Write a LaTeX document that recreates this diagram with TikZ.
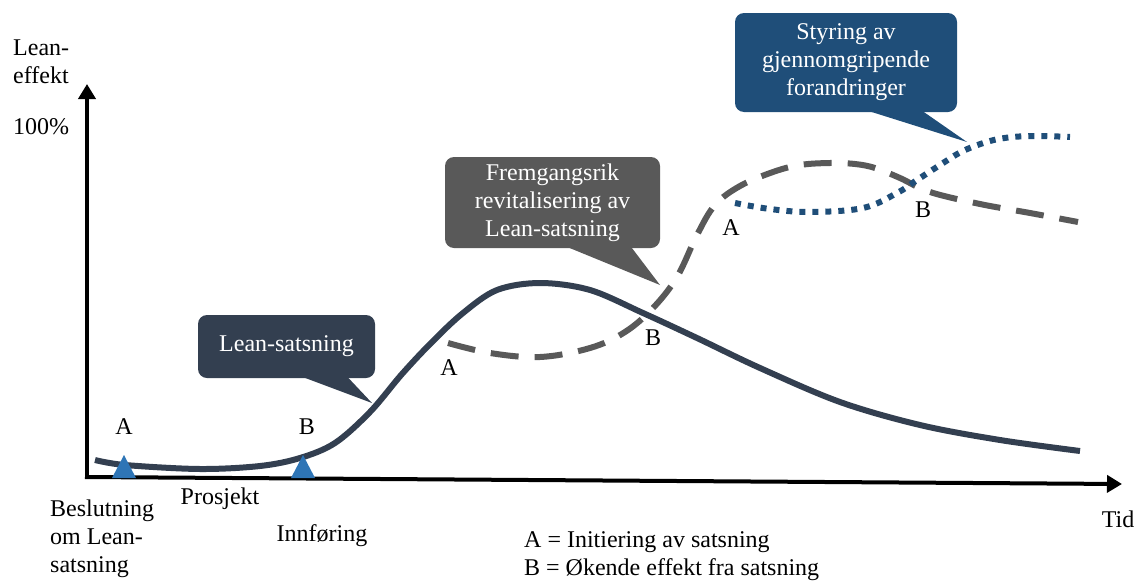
\documentclass[tikz,border=0pt]{standalone}
\usepackage{fontspec}
\setmainfont{Liberation Serif}
\usetikzlibrary{arrows.meta,calc}
\definecolor{navy}{HTML}{333F50}
\definecolor{slate}{HTML}{595959}
\definecolor{deepblue}{HTML}{1F4E79}
\definecolor{marker}{HTML}{2E75B6}
\begin{document}
\begin{tikzpicture}[x=1pt,y=-1pt,
  font=\fontsize{24}{28}\selectfont,
  axis/.style={line width=4pt,-{Triangle[length=15pt,width=17pt]}},
  label/.style={inner sep=0pt,anchor=base},
  callout/.style={rounded corners=9pt,text=white,align=center,inner sep=2pt},
  solidcurve/.style={navy,line width=6pt},
  dashcurve/.style={slate,line width=6pt,dash pattern=on 28pt off 16pt},
  dotcurve/.style={deepblue,line width=6pt,dash pattern=on 6pt off 7pt},
  tri/.style={fill=marker}]
\useasboundingbox (0,0) rectangle (1138,581);

% axes
\coordinate (o) at (87,477);
\coordinate (ytop) at (87,84);
\coordinate (xend) at (1122,484);
\draw[axis] (o) -- (ytop);
\draw[axis] (85,477) -- (xend);

% axis labels
\node[inner sep=0pt,anchor=north west,align=left] (ylab) at (13,40) {Lean-\\effekt};
\node[label] (full) at (41,134) {100\%};
\node[label] (tid) at (1118,527) {Tid};

% main curve
\draw[solidcurve] plot[smooth,tension=0.55] coordinates {(95,460) (125,465) (200,469) (260,466) (300,458) (335,443) (370,412) (402,374) (432,342) (463,313) (497,290) (540,283) (590,290) (643,313) (697,338) (760,368) (840,402) (920,425) (1000,440) (1080,451)};

% revitalisation curve
\draw[dashcurve] plot[smooth,tension=0.6] coordinates {(448,343) (490,353) (540,357) (590,348) (625,332) (653,308) (677,277) (697,235) (715,205) (740,186) (773,172) (800,165) (830,163) (855,164) (875,168) (900,178) (930,192) (980,204) (1030,213) (1078,222)};

% transformation curve
\draw[dotcurve] plot[smooth,tension=0.6] coordinates {(735,203) (770,209) (810,212) (863,208) (897,193) (917,180) (940,165) (963,151) (990,141) (1013,137) (1040,136) (1070,137)};

% phase markers
\fill[tri] (112,478) -- (124,455) -- (136,478) -- cycle;
\fill[tri] (291,478) -- (303,455) -- (315,478) -- cycle;

% point labels
\node[label] (a1) at (124,434) {A};
\node[label] (b1) at (307,434) {B};
\node[label] (a2) at (449,375) {A};
\node[label] (b2) at (653,345) {B};
\node[label] (a3) at (731,235) {A};
\node[label] (b3) at (923,217) {B};

% phase names
\node[inner sep=0pt,anchor=north west,align=left] (besl) at (50,500) {Beslutning\\om Lean-\\satsning};
\node[label] (pros) at (220,504) {Prosjekt};
\node[label] (innf) at (322,541) {Innføring};

% legend
\node[inner sep=0pt,anchor=north west,align=left] (leg) at (524,531) {A = Initiering av satsning\\B = Økende effekt fra satsning};

% callouts
\node[callout,fill=navy,minimum width=177pt,minimum height=63pt] (c1) at (286.5,346.5) {Lean-satsning};
\coordinate (t1) at (372,403);
\fill[navy] ($(c1.south west)+(100,-3)$) -- ++(48,0) -- (t1) -- cycle;

\node[callout,fill=slate,minimum width=215pt,minimum height=91pt] (c2) at (552.5,202.5) {Fremgangsrik\\revitalisering av\\Lean-satsning};
\coordinate (t2) at (660,285);
\fill[slate] ($(c2.south west)+(118,-3)$) -- ++(67,0) -- (t2) -- cycle;

\node[callout,fill=deepblue,minimum width=222pt,minimum height=99pt] (c3) at (846,62.5) {Styring av\\gjennomgripende\\forandringer};
\coordinate (t3) at (967,142);
\fill[deepblue] ($(c3.south west)+(128,-3)$) -- ++(57,0) -- (t3) -- cycle;
\end{tikzpicture}
\end{document}
